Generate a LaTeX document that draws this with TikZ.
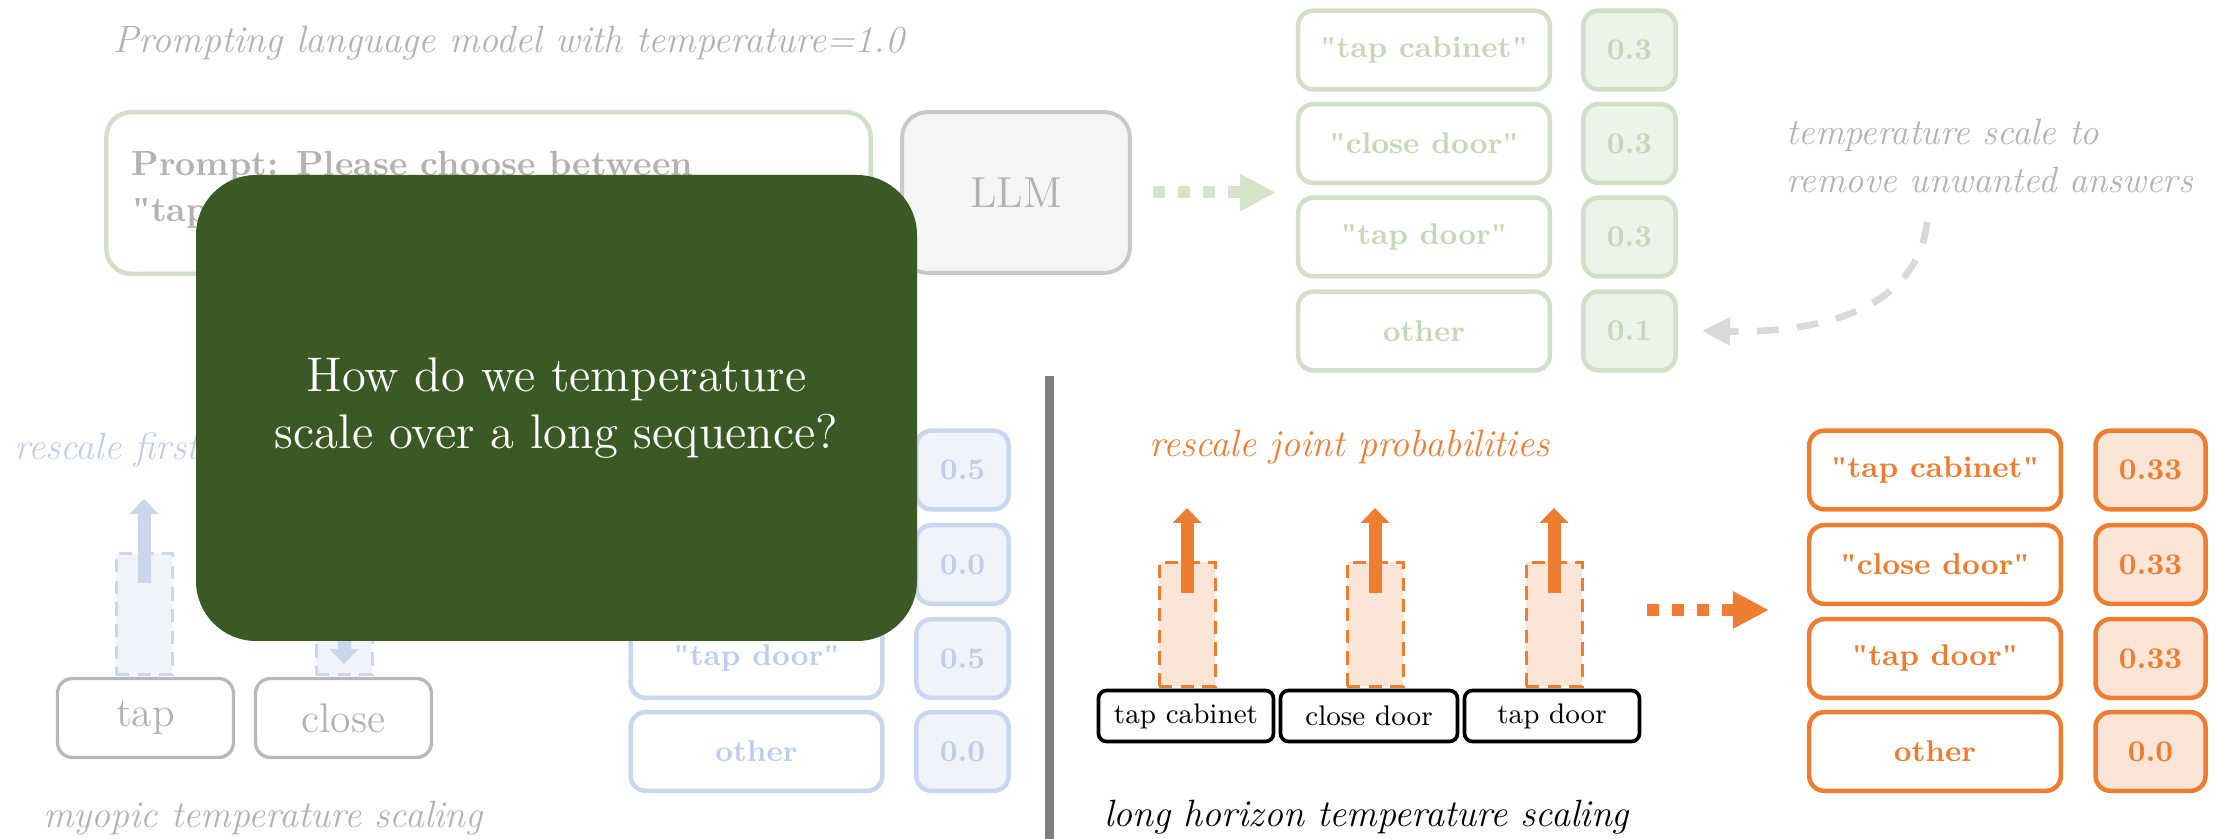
\documentclass[tikz,border=0pt]{standalone}
\usepackage{fontspec}
\newfontfamily\qfont{Liberation Serif}[Ligatures=TeXOff]
\newcommand\qq{{\qfont\symbol{34}}}
\usetikzlibrary{arrows.meta}
\definecolor{gbd}{RGB}{208,223,198}
\definecolor{gfl}{RGB}{236,243,232}
\definecolor{gtx}{RGB}{196,216,184}
\definecolor{garr}{RGB}{211,228,201}
\definecolor{qgreen}{RGB}{59,89,36}
\definecolor{bbd}{RGB}{201,215,238}
\definecolor{bfl}{RGB}{240,244,250}
\definecolor{btx}{RGB}{190,206,234}
\definecolor{barr}{RGB}{201,214,236}
\definecolor{gytx}{RGB}{178,178,178}
\definecolor{gybd}{RGB}{184,184,184}
\definecolor{llmfl}{RGB}{245,245,245}
\definecolor{llmbd}{RGB}{200,200,200}
\definecolor{org}{RGB}{237,125,49}
\definecolor{orgfl}{RGB}{251,229,214}
\definecolor{sep}{RGB}{127,127,127}
\definecolor{curv}{RGB}{217,217,217}
\tikzset{
  lbl/.style={line width=1.35pt, rounded corners=4.5pt, fill=white,
    minimum width=75.5pt, minimum height=23.6pt, inner sep=0pt,
    font=\bfseries\fontsize{9}{10}\selectfont},
  gl/.style={lbl, draw=gbd, text=gtx},
  gv/.style={gl, fill=gfl, minimum width=27.7pt},
  bl/.style={lbl, draw=bbd, text=btx},
  bv/.style={bl, fill=bfl, minimum width=27.7pt},
  ol/.style={lbl, draw=org, text=org},
  ov/.style={ol, fill=orgfl, minimum width=33pt},
  capt/.style={font=\itshape\fontsize{11.4}{13.7}\selectfont, inner sep=0pt},
  tokbox/.style={draw=black, line width=1.1pt, rounded corners=2.4pt, fill=white,
    minimum width=52.5pt, minimum height=15.3pt, inner sep=0pt,
    font=\fontsize{8.5}{10}\selectfont},
  graybox/.style={draw=gybd, line width=1pt, rounded corners=4.5pt, fill=white,
    text=gytx, minimum width=52.8pt, minimum height=23.7pt, inner sep=0pt,
    font=\fontsize{12.5}{14}\selectfont},
  orect/.style={draw=org, fill=orgfl, line width=0.9pt, dash pattern=on 4pt off 2.5pt,
    minimum width=16.8pt, minimum height=37.2pt, inner sep=0pt},
  brect/.style={draw=bbd, fill=bfl, line width=0.9pt, dash pattern=on 4pt off 2.5pt,
    minimum width=16.8pt, inner sep=0pt},
  fatarrow/.style={line width=3.9pt, -{Triangle[length=4.5pt,width=8.4pt]}},
  dotarrow/.style={line width=3.6pt, dash pattern=on 3.6pt off 3.9pt,
    -{Triangle[length=10.8pt,width=10.5pt]}},
}
\begin{document}
\begin{tikzpicture}[x=0.3pt,y=-0.3pt]
\useasboundingbox (0,0) rectangle (2229,839);

% ---------- top: prompting ----------
\node[capt, text=gytx] (title) at (509,43) {Prompting language model with temperature=1.0};
\node[draw=gbd, line width=1.35pt, rounded corners=7.5pt, minimum width=229.3pt,
  minimum height=48.5pt, inner sep=0pt] (prompt) at (488.5,193) {};
\node[anchor=west, align=left, text=gytx, inner sep=0pt,
  font=\bfseries\fontsize{10.5}{13.8}\selectfont] (ptext) at (131,190)
  {Prompt: Please choose between\\\qq tap};
\node[draw=llmbd, fill=llmfl, line width=1.2pt, rounded corners=7.5pt,
  minimum width=68.3pt, minimum height=48.2pt, inner sep=0pt, text=gytx,
  font=\fontsize{13}{15}\selectfont] (llm) at (1016,192.5) {LLM};

% green answer column
\node[gl] (g1l) at (1424,50) {\qq tap cabinet\qq};
\node[gl] (g2l) at (1424,143.5) {\qq close door\qq};
\node[gl] (g3l) at (1424,237) {\qq tap door\qq};
\node[gl] (g4l) at (1424,331) {other};
\node[gv] (g1v) at (1629.5,50) {0.3};
\node[gv] (g2v) at (1629.5,143.5) {0.3};
\node[gv] (g3v) at (1629.5,237) {0.3};
\node[gv] (g4v) at (1629.5,331) {0.1};

\draw[dotarrow, draw=garr, fill=garr, shorten <=6.3pt, shorten >=6pt]
  (llm.east) -- (llm.east -| g2l.west);

\node[capt, text=gytx, anchor=west, align=left,
  font=\itshape\fontsize{11}{14.4}\selectfont] (note) at (1786,156)
  {temperature scale to\\remove unwanted answers};
\coordinate (cstart) at (1927,222);
\draw[curv, line width=2pt, dash pattern=on 6.5pt off 5.5pt,
  -{Triangle[length=8.4pt,width=8pt]}]
  (cstart) .. controls (1918,305) and (1830,333) .. ([xshift=7.2pt]g4v.east);

% ---------- left: myopic ----------
\node[capt, text=btx, anchor=west]
  (rfirst) at (14,450) {rescale first};
\node[graybox] (tap) at (145.5,718) {tap};
\node[graybox] (close) at (343.5,718) {close};
\node[brect, minimum height=36.3pt, anchor=south] (br1) at (144,676) {};
\node[brect, minimum height=17pt, anchor=south] (br2) at (344,676) {};
\draw[fatarrow, barr] ([yshift=-9.3pt]br1.north) -- ([yshift=15.9pt]br1.north);
\draw[fatarrow, barr] ([yshift=16.5pt]br2.north) -- ([yshift=3.6pt]br2.south);
\node[capt, text=gytx] (myopic) at (263,818) {myopic temperature scaling};

\node[bl] (b1l) at (756.5,470) {};
\node[bl] (b2l) at (756.5,564.5) {};
\node[bl] (b3l) at (756.5,658.5) {\qq tap door\qq};
\node[bl] (b4l) at (756.5,751.5) {other};
\node[bv] (b1v) at (962.5,470) {0.5};
\node[bv] (b2v) at (962.5,564.5) {0.0};
\node[bv] (b3v) at (962.5,658.5) {0.5};
\node[bv] (b4v) at (962.5,751.5) {0.0};

% separator
\fill[sep] (1044.5,376) rectangle (1053.5,839);

% ---------- right: long horizon ----------
\node[capt, text=org] (rjoint)
  at (1349.5,447) {rescale joint probabilities};
\node[tokbox] (t1) at (1186,716) {tap cabinet};
\node[tokbox, minimum width=53.1pt] (t2) at (1369,716) {close door};
\node[tokbox] (t3) at (1552,716) {tap door};
\node[orect] (r1) at (1187,624.5) {};
\node[orect] (r2) at (1375,624.5) {};
\node[orect] (r3) at (1554,624.5) {};
\draw[fatarrow, org] ([yshift=-9.6pt]r1.north) -- ([yshift=15.9pt]r1.north);
\draw[fatarrow, org] ([yshift=-9.6pt]r2.north) -- ([yshift=15.9pt]r2.north);
\draw[fatarrow, org] ([yshift=-9.6pt]r3.north) -- ([yshift=15.9pt]r3.north);
\node[capt, text=black] (longh) at (1366.5,817) {long horizon temperature scaling};

\node[ol] (o1l) at (1935,470) {\qq tap cabinet\qq};
\node[ol] (o2l) at (1935,564.5) {\qq close door\qq};
\node[ol] (o3l) at (1935,658.5) {\qq tap door\qq};
\node[ol] (o4l) at (1935,751.5) {other};
\node[ov] (o1v) at (2150.5,470) {0.33};
\node[ov] (o2v) at (2150.5,564.5) {0.33};
\node[ov] (o3v) at (2150.5,658.5) {0.33};
\node[ov] (o4v) at (2150.5,751.5) {0.0};

\coordinate (ostart) at (1647,610);
\draw[dotarrow, draw=org, fill=org, shorten >=11.4pt]
  (ostart) -- (ostart -| o1l.west);

% ---------- overlay question ----------
\node[fill=qgreen, rounded corners=18pt, minimum width=216.3pt,
  minimum height=139.8pt, inner sep=0pt, text=white, align=center,
  font=\fontsize{14.6}{17.1}\selectfont] (question) at (556.5,408)
  {How do we temperature\\scale over a long sequence?};
\end{tikzpicture}
\end{document}
